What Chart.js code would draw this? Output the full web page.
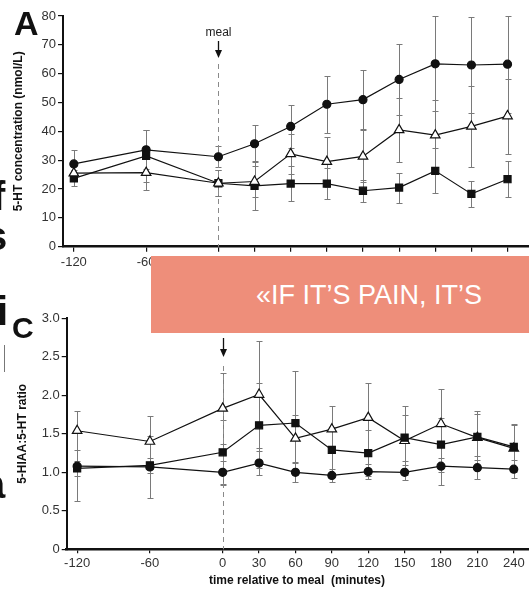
<!DOCTYPE html>
<html>
<head>
<meta charset="utf-8">
<script src="https://cdn.jsdelivr.net/npm/chart.js@4.4.1/dist/chart.umd.min.js"></script>
<style>
  html, body { margin: 0; padding: 0; background: #fff; overflow: hidden; }
  #page { position: relative; width: 529px; height: 589px; overflow: hidden; font-family: "Liberation Sans", Arial, sans-serif; }
  canvas { position: absolute; left: 0; }
  #chartA { top: 0; }
  #chartC { top: 300px; }
  .frag { position: absolute; font: bold 40px/40px "Liberation Sans", Arial, sans-serif; color: #111; }
  .letter { position: absolute; font-weight: bold; color: #111; }
  #banner { position: absolute; left: 151px; top: 256px; width: 378px; height: 77px; background: #EE8E7A; }
  #banner span { position: absolute; left: 105px; top: 26px; font: 27px/27px "Liberation Sans", Arial, sans-serif; color: #fff; white-space: nowrap; }
  #xtitle { position: absolute; left: 0; width: 594px; top: 573px; text-align: center; font: bold 12px/14px "Liberation Sans", Arial, sans-serif; color: #111; white-space: pre; }
</style>
</head>
<body>
<div id="page">
  <canvas id="chartA" width="560" height="280"></canvas>
  <canvas id="chartC" width="560" height="289"></canvas>

  <div class="letter" style="left:14px;top:6px;font-size:34px;line-height:34px">A</div>
  <div class="letter" style="left:12px;top:313px;font-size:30px;line-height:30px">C</div>

  <div class="frag" style="left:-8px;top:176px">f</div>
  <div class="frag" style="left:-15px;top:216px">s</div>
  <div class="frag" style="left:-3px;top:291px">i</div>
  <div style="position:absolute;left:4px;top:345px;width:1px;height:27px;background:#777"></div>
  <div class="frag" style="left:-17px;top:464px">a</div>

  <div id="banner"><span>«IF IT’S PAIN, IT’S</span></div>
  <div id="xtitle">time relative to meal  (minutes)</div>
</div>

<script>
// ─── Data ──────────────────────────────────────────────────────────────────────
const times  = [-120, -60, 0, 30, 60, 90, 120, 150, 180, 210, 240];
const xTicks = [-120, -60, 0, 30, 60, 90, 120, 150, 180, 210, 240];
const mealTime = 0;

// panel A: 5-HT concentration (nmol/L)
const htCircle      = [28.7, 33.6, 31.2, 35.7, 41.7, 49.4, 51.0, 58.0, 63.4, 63.0, 63.3];
const htCircleErr   = [4.8, 6.8, 3.6, 6.5, 7.5, 9.8, 10.3, 12.3, 16.5, 16.8, 16.8];
const htSquare      = [23.7, 31.5, 22.0, 21.1, 21.9, 21.9, 19.4, 20.5, 26.3, 18.3, 23.4];
const htSquareErr   = [2.8, 9.0, 4.5, 8.5, 6.0, 5.4, 3.8, 5.2, 7.8, 4.4, 6.2];
const htTriangle    = [25.5, 25.7, 22.0, 22.6, 32.2, 29.5, 31.3, 40.5, 38.7, 41.7, 45.3];
const htTriangleErr = [2.5, 6.0, 4.5, 5.5, 7.0, 8.7, 9.0, 11.0, 12.0, 14.0, 13.0];
const htTicks = [0, 10, 20, 30, 40, 50, 60, 70, 80];

// panel C: 5-HIAA:5-HT ratio
const ratioTriangle    = [1.54, 1.40, 1.83, 2.01, 1.44, 1.56, 1.71, 1.41, 1.63, 1.45, 1.31];
const ratioTriangleErr = [0.25, 0.33, 0.46, 0.69, 0.30, 0.30, 0.45, 0.45, 0.45, 0.35, 0.30];
const ratioSquare      = [1.05, 1.09, 1.26, 1.61, 1.64, 1.29, 1.25, 1.45, 1.36, 1.46, 1.33];
const ratioSquareErr   = [0.10, 0.10, 0.42, 0.55, 0.68, 0.30, 0.30, 0.30, 0.35, 0.30, 0.30];
const ratioCircle      = [1.08, 1.07, 1.00, 1.12, 1.00, 0.96, 1.01, 1.00, 1.08, 1.06, 1.04];
const ratioCircleErr   = [0.45, 0.40, 0.15, 0.16, 0.12, 0.08, 0.10, 0.10, 0.25, 0.15, 0.12];
const ratioTicks = [0, 0.5, 1.0, 1.5, 2.0, 2.5, 3.0];

const FONT = '"Liberation Sans", Arial, sans-serif';

// ─── Plugins ───────────────────────────────────────────────────────────────────
const errorBars = {
  id: 'errorBars',
  beforeDatasetsDraw(chart) {
    const { ctx, scales: { x, y } } = chart;
    ctx.save();
    ctx.strokeStyle = '#7a7a7a';
    ctx.lineWidth = 1;
    chart.data.datasets.forEach(ds => {
      ds.data.forEach((p, i) => {
        const e = ds.errors[i];
        const px = Math.round(x.getPixelForValue(p.x)) + 0.5;
        const top = Math.round(y.getPixelForValue(p.y + e)) + 0.5;
        const bot = Math.round(y.getPixelForValue(p.y - e)) + 0.5;
        ctx.beginPath();
        ctx.moveTo(px, top); ctx.lineTo(px, bot);
        ctx.moveTo(px - 3, top); ctx.lineTo(px + 3, top);
        ctx.moveTo(px - 3, bot); ctx.lineTo(px + 3, bot);
        ctx.stroke();
      });
    });
    ctx.restore();
  }
};

const mealMarker = {
  id: 'mealMarker',
  beforeDatasetsDraw(chart, args, o) {
    const { ctx, chartArea, scales: { x } } = chart;
    const px = Math.round(x.getPixelForValue(mealTime)) + 0.5;
    ctx.save();
    ctx.strokeStyle = '#8a8a8a';
    ctx.lineWidth = 1;
    ctx.setLineDash([5, 4]);
    ctx.beginPath(); ctx.moveTo(px, o.dashTop); ctx.lineTo(px, chartArea.bottom); ctx.stroke();
    ctx.setLineDash([]);
    ctx.strokeStyle = '#111'; ctx.fillStyle = '#111'; ctx.lineWidth = 1.3;
    ctx.beginPath(); ctx.moveTo(px, o.arrowTop); ctx.lineTo(px, o.arrowBottom - 5); ctx.stroke();
    ctx.beginPath();
    ctx.moveTo(px - 3.5, o.arrowBottom - 8); ctx.lineTo(px + 3.5, o.arrowBottom - 8); ctx.lineTo(px, o.arrowBottom);
    ctx.closePath(); ctx.fill();
    if (o.label) {
      ctx.font = '12px ' + FONT;
      ctx.textAlign = 'center'; ctx.textBaseline = 'middle';
      ctx.fillStyle = '#222';
      ctx.fillText(o.label, px, o.labelY);
    }
    ctx.restore();
  }
};

// ─── Helpers ───────────────────────────────────────────────────────────────────
function series(vals, errs, style) {
  const base = {
    data: times.map((t, i) => ({ x: t, y: vals[i] })),
    errors: errs,
    borderColor: '#111', borderWidth: 1.2, tension: 0,
    pointBorderColor: '#111', pointBorderWidth: 1.2
  };
  if (style === 'circle')   return { ...base, pointStyle: 'circle',   pointRadius: 4,   pointBackgroundColor: '#111' };
  if (style === 'rect')     return { ...base, pointStyle: 'rect',     pointRadius: 5,   pointBackgroundColor: '#111' };
  return { ...base, pointStyle: 'triangle', pointRadius: 5.5, pointBackgroundColor: '#fff' };
}

function makePanel(id, cfg) {
  return new Chart(document.getElementById(id), {
    type: 'line',
    data: { datasets: cfg.datasets },
    plugins: [errorBars, mealMarker],
    options: {
      responsive: false, animation: false, devicePixelRatio: 1,
      layout: { padding: { top: cfg.padTop, left: 0, right: 0, bottom: 0 } },
      plugins: {
        legend: { display: false }, tooltip: { enabled: false },
        mealMarker: cfg.meal
      },
      scales: {
        x: {
          type: 'linear', min: cfg.xMin, max: cfg.xMax,
          afterBuildTicks: s => { s.ticks = xTicks.map(v => ({ value: v })); },
          afterFit: s => { s.height = cfg.xHeight; },
          grid: { drawOnChartArea: false, drawTicks: true, tickLength: cfg.xTickLen, color: '#111', lineWidth: 1.2 },
          border: { color: '#111', width: 2.5 },
          ticks: { color: '#333', font: { family: FONT, size: 13 }, padding: cfg.xPad, maxRotation: 0, autoSkip: false }
        },
        y: {
          min: cfg.yMin, max: cfg.yMax,
          afterBuildTicks: s => { s.ticks = cfg.yTicks.map(v => ({ value: v })); },
          afterFit: s => { s.width = cfg.yWidth; },
          grid: { drawOnChartArea: false, drawTicks: true, tickLength: 5, color: '#111', lineWidth: 1.2 },
          border: { color: '#111', width: 2 },
          ticks: { color: '#333', font: { family: FONT, size: 13 }, padding: 2, callback: cfg.yFmt },
          title: { display: true, text: cfg.yTitle, color: '#111', font: { family: FONT, size: 12, weight: 'bold' },
                   padding: { top: cfg.yTitlePad, bottom: 0 } }
        }
      }
    }
  });
}

// ─── Panels ────────────────────────────────────────────────────────────────────
makePanel('chartA', {
  datasets: [
    series(htTriangle, htTriangleErr, 'triangle'),
    series(htSquare, htSquareErr, 'rect'),
    series(htCircle, htCircleErr, 'circle')
  ],
  padTop: 16, xHeight: 33.3, yWidth: 63,
  xMin: -129, xMax: 278, xTickLen: 5, xPad: 3,
  yMin: 0, yMax: 80, yTicks: htTicks, yFmt: v => String(v),
  yTitle: '5-HT concentration (nmol/L)', yTitlePad: 11,
  meal: { label: 'meal', labelY: 33, arrowTop: 41, arrowBottom: 58, dashTop: 64 }
});

makePanel('chartC', {
  datasets: [
    series(ratioCircle, ratioCircleErr, 'circle'),
    series(ratioSquare, ratioSquareErr, 'rect'),
    series(ratioTriangle, ratioTriangleErr, 'triangle')
  ],
  padTop: 18.3, xHeight: 39.7, yWidth: 66.7,
  xMin: -128.6, xMax: 272.6, xTickLen: 4, xPad: 2,
  yMin: 0, yMax: 3, yTicks: ratioTicks, yFmt: v => (v === 0 ? '0' : v.toFixed(1)),
  yTitle: '5-HIAA:5-HT ratio', yTitlePad: 15,
  meal: { label: '', labelY: 0, arrowTop: 38, arrowBottom: 57, dashTop: 66 }
});
</script>
</body>
</html>
